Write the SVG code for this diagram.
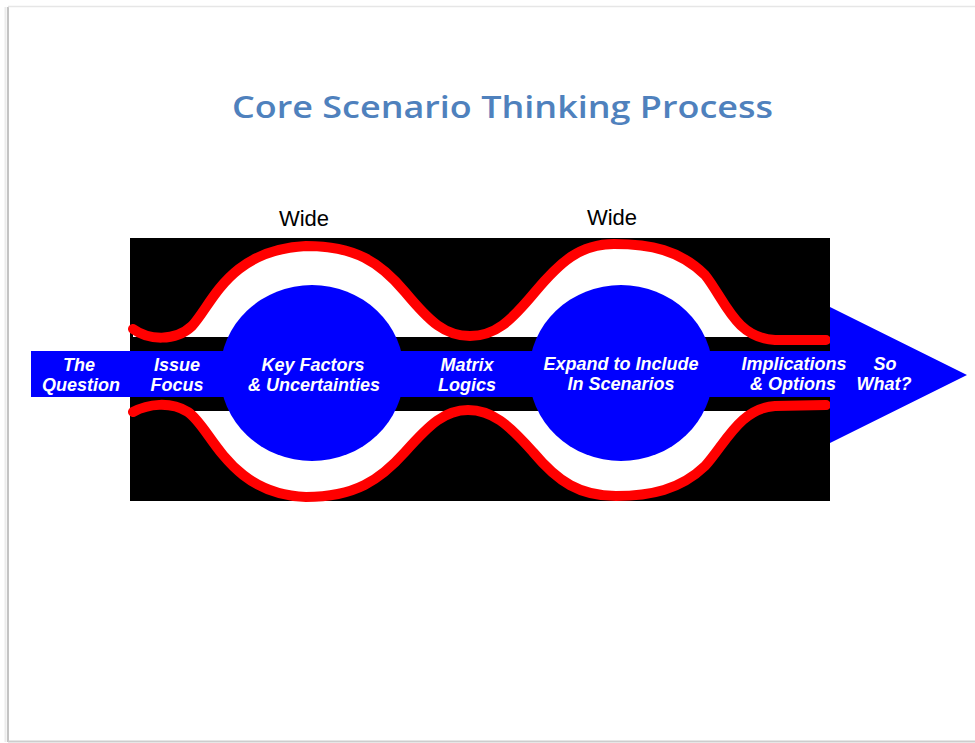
<svg xmlns="http://www.w3.org/2000/svg" width="975" height="743" viewBox="0 0 975 743">
  <style>
    .lbl { font-family: "Liberation Sans", Arial, sans-serif; font-weight: bold; font-style: italic; font-size: 18px; fill: #ffffff; text-anchor: middle; }
    .wide { font-family: "Liberation Sans", Arial, sans-serif; font-size: 22px; fill: #000000; text-anchor: middle; }
    .title { font-family: "Open Sans", Lato, sans-serif; font-weight: 600; font-size: 30px; fill: #4f81bd; }
    .tube { fill: none; stroke: #ff0000; stroke-width: 10; stroke-linecap: round; stroke-linejoin: round; }
    .blue { fill: #0000ff; }
  </style>

  <!-- page -->
  <rect x="0" y="0" width="975" height="743" fill="#ffffff"/>
  <g id="frame">
    <line x1="5.5" y1="7" x2="5.5" y2="742" stroke="#ececec" stroke-width="2"/>
    <line x1="8" y1="7" x2="8" y2="742" stroke="#c4c4c4" stroke-width="2"/>
    <line x1="8" y1="6.5" x2="975" y2="6.5" stroke="#e6e6e6" stroke-width="1.5"/>
    <line x1="8" y1="741.5" x2="975" y2="741.5" stroke="#cdcdcd" stroke-width="2"/>
  </g>

  <g id="title">
    <text class="title" x="232" y="118" textLength="541" lengthAdjust="spacingAndGlyphs">Core Scenario Thinking Process</text>
  </g>

  <g id="wide-labels">
    <text class="wide" x="304" y="226">Wide</text>
    <text class="wide" x="612" y="225">Wide</text>
  </g>

  <!-- funnel: black field, white widening channel, red walls -->
  <g id="funnel">
    <rect x="130" y="238" width="700" height="263" fill="#000000"/>
    <path fill="#ffffff" d="M133,329 C148,340 175,342 192,326 C212,305 228,250 306,246 C355,246 380,262 405,292 C430,322 445,336 470,336 C495,336 510,322 535,292 C560,262 580,244 614,244 C650,244 680,250 705,275 C725,300 735,338 775,340 L826,340 L826,405 L775,406 C740,408 725,444 705,466 C680,490 650,496 616,496 C580,496 558,482 533,452 C508,424 492,410 468,410 C445,410 430,424 405,452 C380,480 355,497 306,497 C228,494 212,428 188,412 C170,401 148,404 133,412 Z"/>
    <rect x="130" y="337" width="700" height="74" fill="#000000"/>
    <path class="tube" d="M133,329 C148,340 175,342 192,326 C212,305 228,250 306,246 C355,246 380,262 405,292 C430,322 445,336 470,336 C495,336 510,322 535,292 C560,262 580,244 614,244 C650,244 680,250 705,275 C725,300 735,338 775,340 L826,340"/>
    <path class="tube" d="M133,412 C148,404 170,401 188,412 C212,428 228,494 306,497 C355,497 380,480 405,452 C430,424 445,410 468,410 C492,410 508,424 533,452 C558,482 580,496 616,496 C650,496 680,490 705,466 C725,444 740,408 775,406 L826,405"/>
  </g>

  <!-- main flow arrow -->
  <g id="connectors">
    <path class="blue" d="M31,351 L830,351 L830,307 L967,375 L830,443 L830,397 L31,397 Z"/>
  </g>

  <g id="node-question">
    <text class="lbl" x="79" y="371">The</text>
    <text class="lbl" x="81" y="391">Question</text>
  </g>
  <g id="node-issue-focus">
    <text class="lbl" x="177" y="371">Issue</text>
    <text class="lbl" x="177" y="391">Focus</text>
  </g>
  <g id="node-key-factors">
    <ellipse class="blue" cx="312" cy="373" rx="92" ry="88"/>
    <text class="lbl" x="313" y="371">Key Factors</text>
    <text class="lbl" x="314" y="391">&amp; Uncertainties</text>
  </g>
  <g id="node-matrix-logics">
    <text class="lbl" x="467" y="371">Matrix</text>
    <text class="lbl" x="467" y="391">Logics</text>
  </g>
  <g id="node-expand">
    <ellipse class="blue" cx="621" cy="373" rx="92" ry="88"/>
    <text class="lbl" x="621" y="370">Expand to Include</text>
    <text class="lbl" x="621" y="390">In Scenarios</text>
  </g>
  <g id="node-implications">
    <text class="lbl" x="794" y="370">Implications</text>
    <text class="lbl" x="793" y="390">&amp; Options</text>
  </g>
  <g id="node-so-what">
    <text class="lbl" x="885" y="370">So</text>
    <text class="lbl" x="884" y="390">What?</text>
  </g>
</svg>
